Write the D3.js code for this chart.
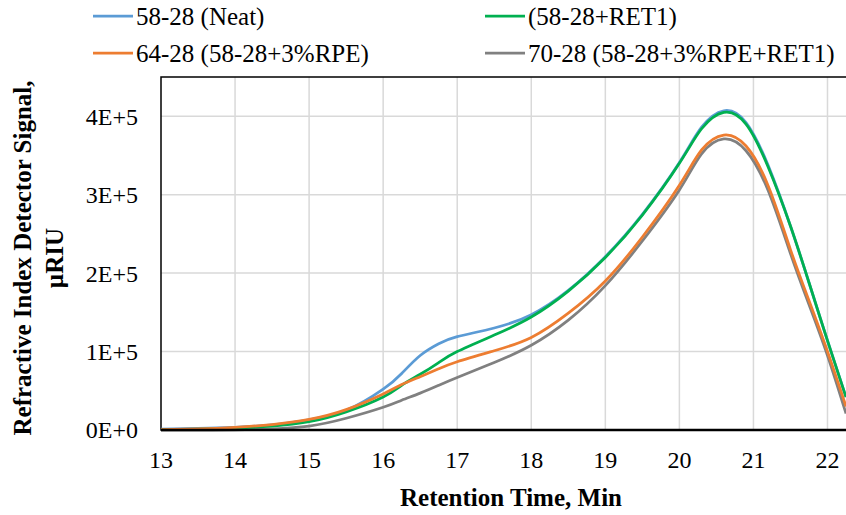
<!DOCTYPE html>
<html>
<head>
<meta charset="utf-8">
<script src="https://cdn.jsdelivr.net/npm/d3@7"></script>
<style>
  body { margin: 0; background: #fff; }
  svg text { font-family: "Liberation Serif", "Times New Roman", serif; fill: #000; }
</style>
</head>
<body>
<script>
// retention times (min) and RI detector signal (in 1E+5 µRIU) for each binder
var times  = [13, 13.5, 14, 14.5, 15, 15.5, 16, 16.25, 16.5, 16.75, 17, 17.5, 18, 18.5, 19, 19.5, 20, 20.3, 20.6, 20.9, 21.2, 21.5, 21.75, 22, 22.25];
var neat   = [0.012, 0.02, 0.035, 0.065, 0.13, 0.25, 0.52, 0.72, 0.95, 1.10, 1.19, 1.30, 1.47, 1.78, 2.21, 2.75, 3.41, 3.86, 4.07, 3.92, 3.37, 2.60, 1.88, 1.14, 0.42];
var ret1   = [0.005, 0.012, 0.025, 0.05, 0.105, 0.23, 0.42, 0.57, 0.71, 0.86, 1.00, 1.21, 1.44, 1.77, 2.20, 2.74, 3.40, 3.84, 4.05, 3.90, 3.35, 2.60, 1.88, 1.14, 0.42];
var rpe    = [0.005, 0.015, 0.035, 0.07, 0.135, 0.26, 0.46, 0.58, 0.68, 0.78, 0.87, 1.01, 1.18, 1.49, 1.90, 2.46, 3.12, 3.57, 3.76, 3.62, 3.11, 2.30, 1.65, 1.00, 0.30];
var rpeRet = [0.0, 0.0, 0.002, 0.015, 0.05, 0.15, 0.29, 0.38, 0.47, 0.57, 0.67, 0.86, 1.08, 1.40, 1.84, 2.41, 3.06, 3.52, 3.71, 3.56, 3.05, 2.25, 1.60, 0.95, 0.21];

var xTicks = [13, 14, 15, 16, 17, 18, 19, 20, 21, 22];
var yTicks = [0, 1e5, 2e5, 3e5, 4e5];

var series = [
  {name: '58-28 (Neat)', color: '#5b9bd5', values: neat, col: 0, row: 0, order: 0},
  {name: '(58-28+RET1)', color: '#00b050', values: ret1, col: 1, row: 0, order: 2},
  {name: '64-28 (58-28+3%RPE)', color: '#ed7d31', values: rpe, col: 0, row: 1, order: 3},
  {name: '70-28 (58-28+3%RPE+RET1)', color: '#808080', values: rpeRet, col: 1, row: 1, order: 1}
];

var width = 846, height = 515;
var margin = {top: 77, right: 0, bottom: 85, left: 161};
var plotW = width - margin.left - margin.right;
var plotH = height - margin.top - margin.bottom;

var svg = d3.select('body').append('svg')
  .attr('width', width)
  .attr('height', height);

var x = d3.scaleLinear().domain([13, 22.25]).range([0, plotW]);
var y = d3.scaleLinear().domain([0, 4.5e5]).range([plotH, 0]);

var g = svg.append('g').attr('transform', 'translate(' + margin.left + ',' + margin.top + ')');

// grid
g.selectAll('.vgrid').data(xTicks.slice(1)).enter().append('line')
  .attr('x1', function(d) { return x(d); })
  .attr('x2', function(d) { return x(d); })
  .attr('y1', 0).attr('y2', plotH)
  .attr('stroke', '#d9d9d9').attr('stroke-width', 1.5);

g.selectAll('.hgrid').data(yTicks.slice(1)).enter().append('line')
  .attr('x1', 0).attr('x2', plotW)
  .attr('y1', function(d) { return y(d); })
  .attr('y2', function(d) { return y(d); })
  .attr('stroke', '#d9d9d9').attr('stroke-width', 1.5);

// frame (right side runs off the page)
g.append('path')
  .attr('d', 'M' + (plotW + 5) + ',0H0V' + plotH + 'H' + (plotW + 5))
  .attr('fill', 'none')
  .attr('stroke', '#000')
  .attr('stroke-width', 1.5);

var line = d3.line()
  .x(function(d) { return x(d[0]); })
  .y(function(d) { return y(Math.max(0, d[1]) * 1e5); })
  .curve(d3.curveNatural);

var drawOrder = series.slice().sort(function(a, b) { return a.order - b.order; });

g.selectAll('.series').data(drawOrder).enter().append('path')
  .attr('fill', 'none')
  .attr('stroke', function(d) { return d.color; })
  .attr('stroke-width', 2.75)
  .attr('stroke-linejoin', 'round')
  .attr('d', function(d) { return line(d3.zip(times, d.values)); });

// axis baseline on top of the curves
g.append('line')
  .attr('x1', 0).attr('x2', plotW + 5)
  .attr('y1', plotH).attr('y2', plotH)
  .attr('stroke', '#000').attr('stroke-width', 2.5);

// tick labels
g.selectAll('.xlab').data(xTicks).enter().append('text')
  .attr('x', function(d) { return x(d); })
  .attr('y', plotH + 38)
  .attr('text-anchor', 'middle')
  .attr('font-size', 24)
  .text(function(d) { return d; });

g.selectAll('.ylab').data(yTicks).enter().append('text')
  .attr('x', -23)
  .attr('y', function(d) { return y(d); })
  .attr('dy', '0.35em')
  .attr('text-anchor', 'end')
  .attr('font-size', 24)
  .text(function(d) { return d === 0 ? '0E+0' : (d / 1e5) + 'E+5'; });

// axis titles
svg.append('text')
  .attr('x', 511).attr('y', 506)
  .attr('text-anchor', 'middle')
  .attr('font-size', 25)
  .attr('font-weight', 'bold')
  .text('Retention Time, Min');

var yTitle = svg.append('text')
  .attr('transform', 'translate(31,258) rotate(-90)')
  .attr('text-anchor', 'middle')
  .attr('font-size', 25)
  .attr('font-weight', 'bold');
yTitle.append('tspan').attr('x', 0).attr('y', 0).text('Refractive Index Detector Signal,');
yTitle.append('tspan').attr('x', 0).attr('y', 32).text('µRIU');

// legend
var legendCols = [93, 485];
var legendRows = [16, 53];

var legend = svg.selectAll('.legend').data(series).enter().append('g')
  .attr('transform', function(d) { return 'translate(' + legendCols[d.col] + ',' + legendRows[d.row] + ')'; });

legend.append('line')
  .attr('x1', 0).attr('x2', 40)
  .attr('stroke', function(d) { return d.color; })
  .attr('stroke-width', 2.75);

legend.append('text')
  .attr('x', 43)
  .attr('dy', '0.35em')
  .attr('font-size', 25)
  .text(function(d) { return d.name; });
</script>
</body>
</html>
